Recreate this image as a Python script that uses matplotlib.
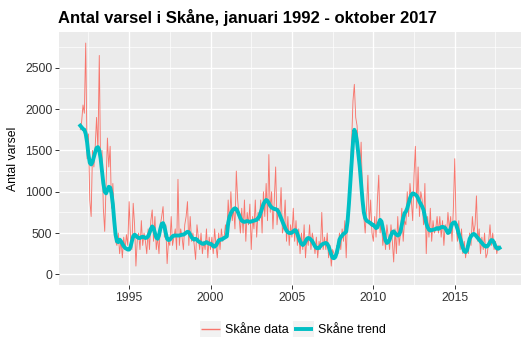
import numpy as np
import matplotlib
matplotlib.use("Agg")
import matplotlib.pyplot as plt
from matplotlib.patches import Rectangle
from matplotlib.lines import Line2D
from matplotlib.legend_handler import HandlerBase

plt.rcParams['font.family'] = ['Liberation Sans', 'DejaVu Sans']

# monthly values, jan 1992 - okt 2017
data_by_year = {
    1992: [1750, 1850, 2050, 1950, 2800, 1400, 1700, 900, 700, 1500, 1300, 1550],
    1993: [1900, 1500, 2650, 1250, 1500, 800, 520, 1100, 1650, 1300, 1550, 800],
    1994: [1100, 700, 400, 350, 500, 250, 420, 200, 450, 300, 480, 350],
    1995: [880, 450, 300, 860, 600, 100, 420, 500, 300, 650, 350, 500],
    1996: [400, 250, 550, 300, 650, 780, 400, 700, 300, 450, 250, 600],
    1997: [700, 820, 450, 600, 130, 400, 350, 700, 350, 450, 550, 300],
    1998: [1150, 350, 550, 450, 300, 600, 700, 880, 350, 700, 400, 500],
    1999: [350, 180, 600, 450, 300, 500, 250, 400, 300, 550, 200, 450],
    2000: [300, 450, 250, 550, 350, 200, 500, 300, 550, 400, 450, 600],
    2001: [450, 900, 600, 1000, 650, 800, 550, 1250, 900, 700, 500, 800],
    2002: [500, 900, 400, 750, 600, 850, 300, 700, 550, 900, 450, 750],
    2003: [650, 900, 500, 1000, 700, 1100, 650, 1450, 750, 1000, 550, 900],
    2004: [1300, 600, 800, 700, 1050, 500, 600, 900, 400, 700, 350, 600],
    2005: [450, 800, 400, 650, 350, 550, 250, 500, 300, 600, 200, 450],
    2006: [350, 600, 300, 500, 400, 250, 450, 200, 400, 300, 750, 300],
    2007: [450, 300, 500, 200, 350, 100, 300, 250, 200, 350, 250, 500],
    2008: [300, 550, 400, 650, 200, 700, 900, 1300, 1600, 2100, 2300, 1900],
    2009: [1800, 1500, 1200, 1600, 1000, 700, 500, 800, 1200, 600, 900, 500],
    2010: [400, 700, 450, 900, 1200, 500, 650, 350, 500, 300, 600, 450],
    2011: [300, 600, 400, 150, 550, 250, 700, 350, 500, 800, 400, 650],
    2012: [600, 1000, 700, 1100, 900, 650, 1200, 1550, 800, 1300, 700, 1000],
    2013: [900, 600, 1100, 250, 700, 450, 800, 400, 650, 500, 550, 700],
    2014: [500, 700, 450, 650, 350, 600, 500, 750, 550, 700, 400, 800],
    2015: [1400, 600, 400, 650, 300, 550, 250, 400, 200, 350, 250, 500],
    2016: [350, 700, 500, 600, 950, 400, 550, 250, 450, 300, 500, 200],
    2017: [250, 400, 600, 350, 500, 300, 400, 250, 350, 300],
}

trend_by_year = {
    1992: [1800, 1780, 1760, 1750, 1700, 1600, 1450, 1350, 1330, 1360, 1420, 1480],
    1993: [1530, 1540, 1500, 1400, 1250, 1100, 1000, 980, 1020, 1060, 1050, 980],
    1994: [850, 650, 480, 400, 390, 420, 400, 370, 340, 320, 310, 300],
    1995: [300, 330, 400, 460, 480, 470, 450, 440, 440, 450, 455, 450],
    1996: [440, 445, 460, 500, 550, 580, 560, 500, 445, 430, 470, 550],
    1997: [610, 620, 580, 500, 430, 415, 420, 440, 460, 470, 470, 470],
    1998: [470, 470, 475, 480, 480, 490, 505, 515, 510, 480, 450, 430],
    1999: [420, 430, 420, 400, 390, 380, 370, 370, 380, 390, 380, 370],
    2000: [370, 360, 340, 335, 350, 380, 410, 420, 420, 430, 440, 450],
    2001: [460, 620, 700, 740, 770, 790, 800, 790, 760, 720, 680, 650],
    2002: [640, 635, 640, 645, 640, 635, 640, 645, 650, 655, 660, 680],
    2003: [700, 750, 800, 850, 880, 900, 890, 860, 830, 810, 800, 790],
    2004: [790, 780, 760, 720, 680, 640, 600, 560, 530, 510, 500, 500],
    2005: [505, 520, 535, 530, 490, 440, 400, 370, 355, 370, 400, 430],
    2006: [440, 435, 420, 400, 370, 340, 320, 315, 320, 340, 360, 370],
    2007: [375, 380, 370, 340, 290, 240, 200, 195, 210, 260, 330, 420],
    2008: [450, 470, 490, 500, 520, 640, 850, 1100, 1350, 1600, 1750, 1700],
    2009: [1600, 1450, 1300, 1100, 900, 750, 680, 650, 640, 630, 620, 600],
    2010: [600, 580, 560, 570, 620, 660, 640, 560, 480, 410, 380, 390],
    2011: [420, 470, 510, 520, 500, 480, 470, 480, 520, 600, 680, 740],
    2012: [760, 800, 860, 920, 960, 980, 975, 965, 950, 920, 880, 850],
    2013: [820, 780, 700, 620, 570, 540, 530, 535, 540, 545, 550, 560],
    2014: [550, 560, 570, 575, 570, 560, 530, 500, 510, 560, 610, 625],
    2015: [630, 600, 550, 490, 440, 380, 320, 280, 270, 290, 360, 430],
    2016: [460, 480, 490, 480, 460, 440, 420, 400, 380, 360, 345, 335],
    2017: [340, 360, 390, 415, 410, 380, 340, 315, 310, 320],
}

skane_data = np.concatenate([data_by_year[y] for y in sorted(data_by_year)])
skane_trend = np.concatenate([trend_by_year[y] for y in sorted(trend_by_year)])
t = 1992 + np.arange(len(skane_data)) / 12.0

red = '#F8766D'
teal = '#00BFC4'


class KeyHandler(HandlerBase):
    # ggplot-like legend key: grey box with a horizontal line through it
    def __init__(self, lw, **kw):
        super().__init__(**kw)
        self.lw = lw

    def create_artists(self, legend, orig_handle, xdescent, ydescent,
                       width, height, fontsize, trans):
        rect = Rectangle((-xdescent, -ydescent), width, height,
                         facecolor='#F2F2F2', edgecolor='none', transform=trans)
        y = -ydescent + height / 2
        ln = Line2D([-xdescent + 1, -xdescent + width - 1], [y, y],
                    color=orig_handle.get_color(), lw=self.lw,
                    solid_capstyle='butt', transform=trans)
        return [rect, ln]


fig = plt.figure(figsize=(5.28, 3.55), dpi=100)
ax = fig.add_axes([0.1123, 0.1958, 0.8735, 0.7132])
ax.set_facecolor('#EBEBEB')

l1, = ax.plot(t, skane_data, color=red, lw=0.65, zorder=3)
l2, = ax.plot(t, skane_trend, color=teal, lw=2.8, zorder=4)

ax.set_xlim(1990.71, 2019.04)
ax.set_ylim(-135, 2930)
ax.set_xticks([1995, 2000, 2005, 2010, 2015])
ax.set_xticks([1992.5, 1997.5, 2002.5, 2007.5, 2012.5, 2017.5], minor=True)
ax.set_yticks([0, 500, 1000, 1500, 2000, 2500])
ax.set_yticks([250, 750, 1250, 1750, 2250, 2750], minor=True)
ax.grid(True, which='major', color='white', lw=1.0, zorder=0)
ax.grid(True, which='minor', color='white', lw=0.5, zorder=0)
ax.set_axisbelow(True)
for s in ax.spines.values():
    s.set_visible(False)
ax.tick_params(which='major', length=3, width=0.7, color='#333333',
               labelsize=8.8, labelcolor='#333333', pad=2)
ax.tick_params(which='minor', length=0)
ax.set_ylabel('Antal varsel', fontsize=8.8, labelpad=4)

fig.text(0.11, 0.952, 'Antal varsel i Skåne, januari 1992 - oktober 2017',
         fontsize=12, fontweight='bold', va='center', ha='left')

fig.legend([l1, l2], ['Skåne data', 'Skåne trend'], loc='center',
           bbox_to_anchor=(0.555, 0.073), ncol=2, frameon=False,
           fontsize=9, handlelength=1.7, handleheight=1.55,
           handletextpad=0.35, columnspacing=0.3,
           handler_map={l1: KeyHandler(1.0), l2: KeyHandler(2.8)})

fig.savefig('out.png', dpi=100)
